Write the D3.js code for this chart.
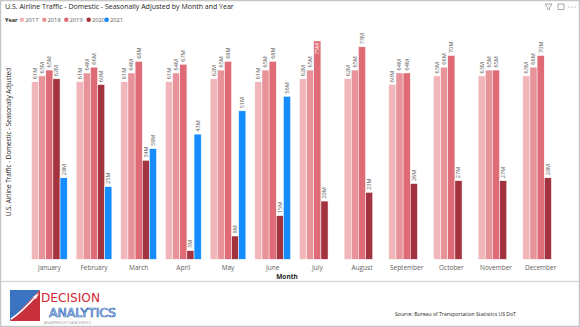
<!DOCTYPE html>
<html>
<head>
<meta charset="utf-8">
<script src="https://cdn.jsdelivr.net/npm/d3@7"></script>
<style>
  body { margin: 0; background: #fff; }
  svg { display: block; font-family: "Open Sans", "Noto Sans", sans-serif; }
</style>
</head>
<body>
<svg width="580" height="327"></svg>
<script>
const width = 580, height = 327;

const months = ["January", "February", "March", "April", "May", "June",
  "July", "August", "September", "October", "November", "December"];
const years = ["2017", "2018", "2019", "2020", "2021"];

// passengers, millions, seasonally adjusted
const y2017 = [61, 61, 61, 61, 62, 61, 62, 62, 60, 63, 63, 63];
const y2018 = [63, 64, 64, 64, 65, 65, 65, 65, 64, 66, 65, 66];
const y2019 = [65, 66, 68, 67, 68, 68, 75, 73, 64, 70, 65, 70];
const y2020 = [62, 60, 34, 3, 8, 15, 20, 23, 26, 27, 27, 28];
const y2021 = [28, 25, 38, 43, 51, 56, null, null, null, null, null, null];

const series = [y2017, y2018, y2019, y2020, y2021];
const colors = ["#F1B6BA", "#E8929A", "#DF6B76", "#A3333F", "#168DFF"];

const svg = d3.select("svg");

// card borders
svg.append("rect").attr("x", 0.5).attr("y", 0.5).attr("width", width - 1).attr("height", height - 1)
  .attr("fill", "#fff").attr("stroke", "#c6c6c6").attr("stroke-width", 1.5);
svg.append("line").attr("x1", 1).attr("x2", width - 1).attr("y1", 281.5).attr("y2", 281.5)
  .attr("stroke", "#d6d6d6").attr("stroke-width", 1.5);

// fit a text to a target width by changing its font size
function fitWidth(sel, w) {
  const node = sel.node();
  const fs = parseFloat(sel.attr("font-size"));
  const cur = node.getComputedTextLength();
  sel.attr("font-size", (fs * w / cur).toFixed(2));
}

// title
const title = svg.append("text").attr("x", 5).attr("y", 9)
  .attr("font-size", 9).attr("fill", "#252423")
  .text("U.S. Airline Traffic - Domestic - Seasonally Adjusted by Month and Year");
fitWidth(title, 229);

// legend
const yr = svg.append("text").attr("x", 5).attr("y", 21.8).attr("font-size", 6)
  .attr("font-weight", "bold").attr("fill", "#252423").text("Year");
fitWidth(yr, 12.5);
const legX = [22, 44.3, 66.3, 88.7, 106.7];
const leg = svg.selectAll(".leg").data(years).enter().append("g").attr("class", "leg")
  .attr("transform", (d, i) => "translate(" + legX[i] + ",19.7)");
leg.append("circle").attr("r", 2.3).attr("fill", (d, i) => colors[i]);
leg.append("text").attr("x", 3.2).attr("y", 2.1).attr("font-size", 5.8)
  .attr("fill", "#605E5C").text(d => d);

// visual header icons
const ic = svg.append("g").attr("stroke", "#8a8886").attr("fill", "none").attr("stroke-width", 0.7);
ic.append("path").attr("d", "M545,4 L552,4 L549.5,7.5 L549.5,10 L547.5,9 L547.5,7.5 Z");
ic.append("rect").attr("x", 558).attr("y", 4).attr("width", 6).attr("height", 5.5);
[569, 572, 575].forEach(x => svg.append("circle").attr("cx", x).attr("cy", 7).attr("r", 0.6).attr("fill", "#8a8886"));

// scales
const x0 = d3.scaleBand().domain(months).range([27, 563]).paddingInner(0.2).paddingOuter(0.1);
const x1 = d3.scaleBand().domain(years).range([0, x0.bandwidth()]);
const y = d3.scaleLinear().domain([0, 80]).range([259.3, 26.4]);
const plotTop = 30;

const rows = [];
months.forEach((m, mi) => {
  series.forEach((s, si) => {
    if (s[mi] != null) rows.push({ month: m, year: years[si], value: s[mi], si: si });
  });
});

const groups = svg.append("g");
groups.selectAll("rect").data(rows).enter().append("rect")
  .attr("x", d => x0(d.month) + x1(d.year))
  .attr("y", d => y(d.value))
  .attr("width", x1.bandwidth())
  .attr("height", d => y(0) - y(d.value))
  .attr("fill", d => colors[d.si])
  .attr("stroke", "#fff").attr("stroke-width", 0.5);

// data labels (rotated)
const lblSize = 5.6;
groups.selectAll(".lbl").data(rows).enter().append("text")
  .attr("class", "lbl")
  .attr("font-size", lblSize)
  .text(d => d.value + "M")
  .each(function (d) {
    const len = this.getComputedTextLength();
    const cx = x0(d.month) + x1(d.year) + x1.bandwidth() / 2;
    const top = y(d.value);
    const inside = top - 3 - len < plotTop;
    d3.select(this)
      .attr("text-anchor", inside ? "end" : "start")
      .attr("fill", inside ? "#fff" : "#605E5C")
      .attr("dy", "0.35em")
      .attr("transform", "translate(" + cx + "," + (inside ? top + 2 : top - 2.5) + ") rotate(-90)");
  });

// x axis
const xAxis = svg.append("g").attr("transform", "translate(0,260)")
  .call(d3.axisBottom(x0).tickSize(0).tickPadding(5));
xAxis.select(".domain").remove();
xAxis.selectAll("text").attr("font-size", 6.5).attr("fill", "#605E5C")
  .attr("font-family", "\"Open Sans\", sans-serif");

svg.append("text").attr("x", 287).attr("y", 279).attr("text-anchor", "middle")
  .attr("font-size", 6.5).attr("font-weight", "bold").attr("fill", "#252423").text("Month");

svg.append("text").attr("transform", "translate(11,142) rotate(-90)")
  .attr("text-anchor", "middle").attr("font-size", 6.3).attr("fill", "#252423")
  .text("U.S. Airline Traffic - Domestic - Seasonally Adjusted");

// footer logo
const logo = svg.append("g");
logo.append("path").attr("d", "M10,290 L40,290 L10,321 Z").attr("fill", "#3a73c2");
logo.append("path").attr("d", "M40,290 L40,321 L10,321 Z").attr("fill", "#c8303b");
logo.append("path").attr("d", "M11,319 Q22,312 37,295").attr("stroke", "#fff").attr("stroke-width", 1.6).attr("fill", "none");
logo.append("path").attr("d", "M33,297 L39,293 L36,299 Z").attr("fill", "#fff");
logo.append("text").attr("x", 41).attr("y", 302).attr("font-size", 12)
  .attr("font-family", "\"Liberation Sans Narrow\", \"DejaVu Sans Condensed\", sans-serif")
  .attr("textLength", 59).attr("lengthAdjust", "spacingAndGlyphs")
  .attr("fill", "#d22630").text("DECISION");
logo.append("text").attr("x", 49).attr("y", 317).attr("font-size", 12)
  .attr("font-family", "\"Liberation Sans Narrow\", \"DejaVu Sans Condensed\", sans-serif")
  .attr("textLength", 67).attr("lengthAdjust", "spacingAndGlyphs")
  .attr("fill", "none").attr("stroke", "#3a73c2").attr("stroke-width", 0.7).text("ANALYTICS");
logo.append("text").attr("x", 44).attr("y", 324).attr("font-size", 3.4).attr("fill", "#999")
  .text("AN AIRINSIGHT DATA SERVICE");

const src = svg.append("text").attr("x", 395).attr("y", 316).attr("font-size", 6.5).attr("fill", "#252423")
  .text("Source: Bureau of Transportation Statistics US DoT");
fitWidth(src, 121);
</script>
</body>
</html>
